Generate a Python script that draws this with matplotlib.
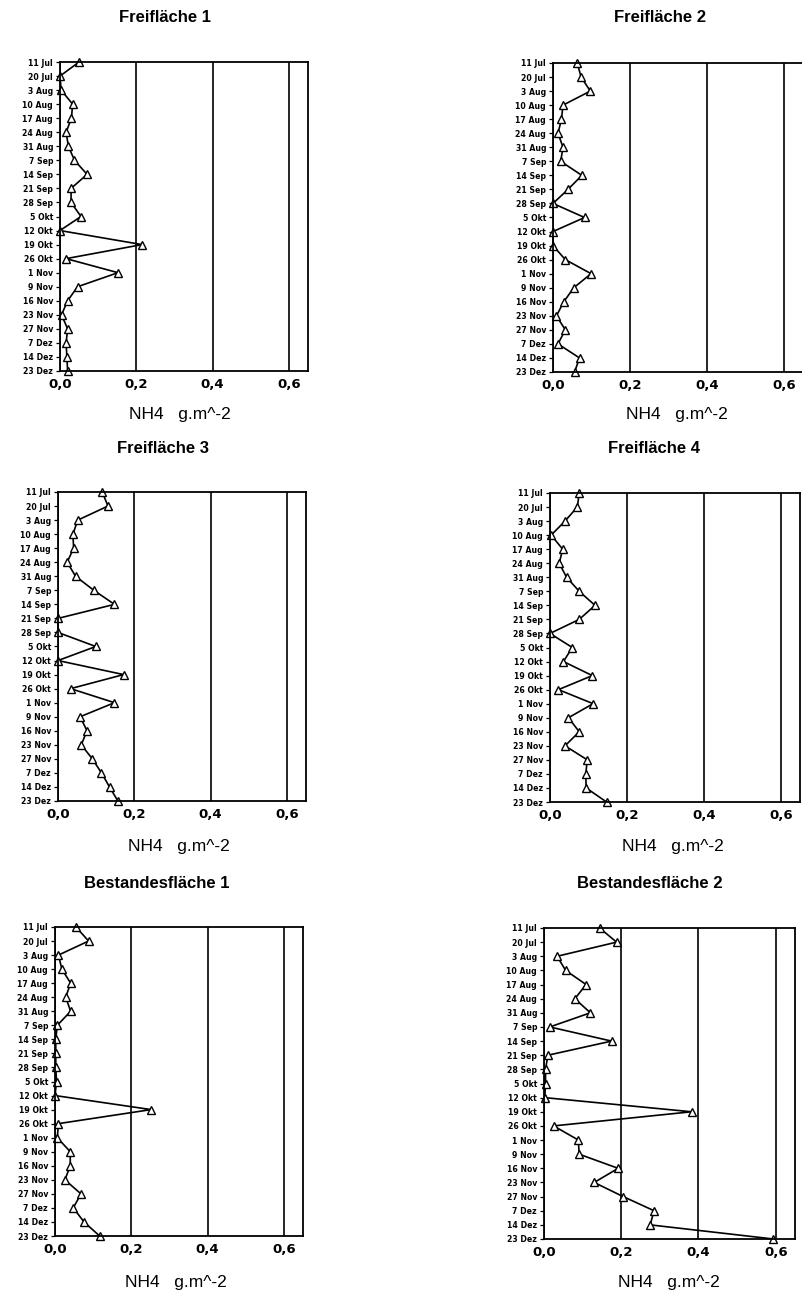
import matplotlib
matplotlib.use("Agg")
import matplotlib.pyplot as plt

plt.rcParams["font.family"] = ["Liberation Sans", "DejaVu Sans"]

# sampling dates (same for all plots), top to bottom
dates = ["11 Jul", "20 Jul", "3 Aug", "10 Aug", "17 Aug", "24 Aug", "31 Aug",
         "7 Sep", "14 Sep", "21 Sep", "28 Sep", "5 Okt", "12 Okt", "19 Okt",
         "26 Okt", "1 Nov", "9 Nov", "16 Nov", "23 Nov", "27 Nov", "7 Dez",
         "14 Dez", "23 Dez"]

# NH4 in g.m^-2
frei1 = [0.050, 0.000, 0.003, 0.033, 0.030, 0.016, 0.022, 0.038, 0.071, 0.029,
         0.029, 0.055, 0.000, 0.215, 0.016, 0.152, 0.046, 0.020, 0.004, 0.020,
         0.016, 0.018, 0.020]
frei2 = [0.063, 0.073, 0.097, 0.026, 0.022, 0.013, 0.026, 0.020, 0.075, 0.039,
         0.000, 0.082, 0.000, 0.000, 0.032, 0.099, 0.054, 0.028, 0.009, 0.032,
         0.013, 0.069, 0.056]
frei3 = [0.116, 0.131, 0.052, 0.039, 0.041, 0.024, 0.046, 0.094, 0.148, 0.000,
         0.000, 0.099, 0.000, 0.172, 0.033, 0.148, 0.058, 0.076, 0.061, 0.090,
         0.114, 0.135, 0.157]
frei4 = [0.076, 0.071, 0.039, 0.003, 0.033, 0.024, 0.043, 0.076, 0.117, 0.076,
         0.000, 0.058, 0.035, 0.110, 0.022, 0.112, 0.048, 0.076, 0.039, 0.097,
         0.093, 0.094, 0.147]
best1 = [0.055, 0.088, 0.009, 0.018, 0.041, 0.028, 0.041, 0.006, 0.002, 0.002,
         0.002, 0.004, 0.000, 0.252, 0.009, 0.006, 0.040, 0.040, 0.026, 0.068,
         0.048, 0.076, 0.117]
best2 = [0.144, 0.188, 0.034, 0.056, 0.109, 0.080, 0.120, 0.015, 0.175, 0.010,
         0.004, 0.004, 0.002, 0.382, 0.025, 0.089, 0.091, 0.192, 0.130, 0.205,
         0.285, 0.275, 0.594]

titles = ["Freifläche 1", "Freifläche 2", "Freifläche 3", "Freifläche 4",
          "Bestandesfläche 1", "Bestandesfläche 2"]
series = [frei1, frei2, frei3, frei4, best1, best2]
xticks = [0.0, 0.2, 0.4, 0.6]
xticklabels = ["0,0", "0,2", "0,4", "0,6"]
xlabel = "NH4   g.m^-2"

W, H = 803, 1293
fig = plt.figure(figsize=(W / 100, H / 100), dpi=100)

# pixel layout: (left, top, right, bottom) of each axes
boxes = [(60, 62, 308, 371), (553, 63, 803, 372),
         (58, 492, 306, 801), (550, 493, 800, 802),
         (55, 927, 303, 1236), (544, 928, 795, 1239)]
title_x = [165, 660, 163, 654, 157, 650]
label_x = [180, 677, 179, 673, 176, 669]
title_y = [18, 18, 448, 448, 883, 884]
label_y = [414, 414, 846, 846, 1283, 1283]

for i in range(6):
    l, t, r, b = boxes[i]
    ax = fig.add_axes([l / W, 1 - b / H, (r - l) / W, (b - t) / H])
    ax.plot(series[i], range(len(dates)), color="black", lw=1.2,
            marker="^", ms=5.5, mfc="white", mec="black", mew=1.0, clip_on=False)
    ax.set_xlim(0, 0.65)
    ax.set_ylim(len(dates) - 1, 0)
    ax.set_yticks(range(len(dates)))
    ax.set_yticklabels(dates, fontsize=5.6, fontweight="bold", family="DejaVu Sans")
    ax.set_xticks(xticks)
    ax.set_xticklabels(xticklabels, fontsize=9.5, fontweight="bold", family="DejaVu Sans")
    ax.tick_params(axis="x", length=0, pad=5)
    ax.tick_params(axis="y", length=3, width=0.9, pad=2)
    ax.grid(axis="x", color="black", lw=1.2)
    for s in ax.spines.values():
        s.set_linewidth(1.3)
    fig.text(title_x[i] / W, 1 - title_y[i] / H, titles[i], ha="center",
             va="center", fontsize=12, fontweight="bold")
    fig.text(label_x[i] / W, 1 - label_y[i] / H, xlabel, ha="center",
             va="center", fontsize=12.5)

fig.savefig("out.png", dpi=100)
